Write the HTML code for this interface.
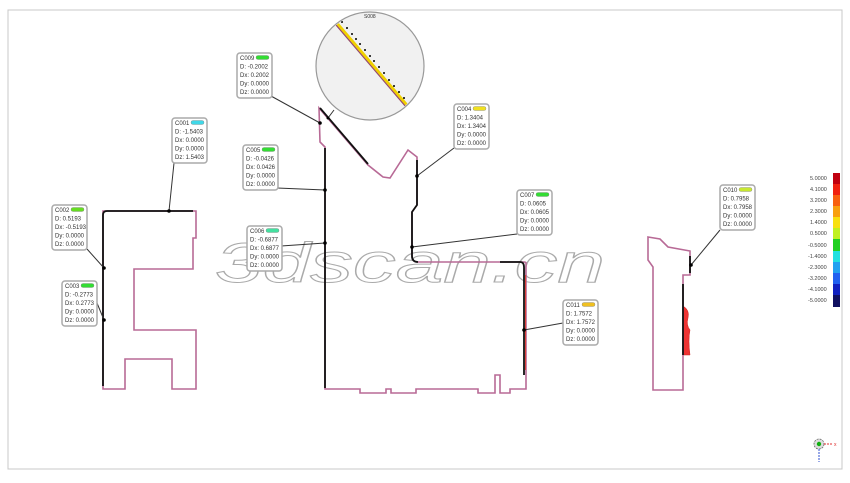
<!DOCTYPE html>
<html><head><meta charset="utf-8"><style>
html,body{margin:0;padding:0;background:#fff;width:850px;height:483px;overflow:hidden}
svg{display:block}
.t{font-family:"Liberation Sans",sans-serif;font-size:6px;fill:#333}
.box{fill:#fff;stroke:#aaa;stroke-width:1.5}
.ol{fill:none;stroke:#b86a96;stroke-width:1.6}
.bk{fill:none;stroke:#111;stroke-width:1.8}
.ln{stroke:#333;stroke-width:1;fill:none}
.lg{font-family:"Liberation Sans",sans-serif;font-size:5.5px;fill:#444}
</style></head><body>
<svg width="850" height="483" viewBox="0 0 850 483" xmlns="http://www.w3.org/2000/svg">
<rect x="0" y="0" width="850" height="483" fill="#fff"/>
<rect x="8" y="10" width="834" height="459" fill="#fff" stroke="#c8c8c8" stroke-width="1"/>

<!-- watermark -->
<text x="215" y="282" font-family="Liberation Sans,sans-serif" font-style="italic" font-size="56" textLength="390" lengthAdjust="spacingAndGlyphs" fill="#fff" fill-opacity="0.5" stroke="#aaa" stroke-width="1">3dscan.cn</text>

<!-- left part -->
<path class="ol" d="M103,211 H196 V238 H193 V269 H134 V330 H196 V389 H172 V359 H125 V389 H103 Z"/>
<path class="bk" d="M103,386 V215 Q103,211 107,211 H193"/>
<line class="ln" x1="174" y1="163" x2="169" y2="211"/><circle cx="169" cy="211" r="1.8" fill="#000"/>
<line class="ln" x1="87" y1="249" x2="104" y2="268"/><circle cx="104" cy="268" r="1.8" fill="#000"/>
<line class="ln" x1="97" y1="303" x2="104" y2="320"/><circle cx="104" cy="320" r="1.8" fill="#000"/>

<!-- middle part -->
<path class="ol" d="M319,108 L320,142 L325,147 V389 H360 V393 H386 V389 H391 V393 H416 V389 H478 V393 H495 V375 H500 V393 H510 V389 H526 V263 Q526,262 524,262 H418 Q412,262 412,256 V212 L417,205 V157 L408,150 L390,178 L383,177 L368,165 Z"/>
<path class="bk" d="M320,108 L368,164"/>
<path class="bk" d="M325,148 V388"/>
<path class="bk" d="M417,160 V205 L412,212 V256 Q412,262 418,262"/>
<path class="bk" d="M500,262 H520 Q524,262 524,267 V375"/>
<line x1="524" y1="275" x2="524" y2="370" stroke="#e03020" stroke-width="0.8" transform="translate(1.5,0)"/>
<line class="ln" x1="271" y1="96" x2="320" y2="123"/><circle cx="320" cy="123" r="1.8" fill="#000"/>
<line class="ln" x1="277" y1="188" x2="325" y2="190"/><circle cx="325" cy="190" r="1.8" fill="#000"/>
<line class="ln" x1="281" y1="246" x2="325" y2="243"/><circle cx="325" cy="243" r="1.8" fill="#000"/>
<line class="ln" x1="454" y1="148" x2="417" y2="176"/><circle cx="417" cy="176" r="1.8" fill="#000"/>
<line class="ln" x1="517" y1="234" x2="412" y2="247"/><circle cx="412" cy="247" r="1.8" fill="#000"/>
<line class="ln" x1="563" y1="323" x2="524" y2="330"/><circle cx="524" cy="330" r="1.8" fill="#000"/>

<!-- magnifier -->
<line class="ln" x1="334" y1="110" x2="328" y2="118"/><circle cx="328" cy="118" r="1.5" fill="#000"/>
<circle cx="370" cy="66" r="54" fill="#f1f1f1" stroke="#999" stroke-width="1.2"/>
<text x="364" y="18" class="t" style="font-size:5px">S008</text>
<g clip-path="url(#cc)">
<clipPath id="cc"><circle cx="370" cy="66" r="53"/></clipPath>
<line x1="337" y1="24" x2="407" y2="106" stroke="#f0d000" stroke-width="4"/>
<line x1="336" y1="25" x2="406" y2="107" stroke="#8a3a8a" stroke-width="1"/>
<g fill="#000">
<circle cx="342" cy="22" r="1"/><circle cx="347" cy="28" r="1"/><circle cx="352" cy="34" r="1"/><circle cx="356" cy="39" r="1"/><circle cx="360" cy="44" r="1"/><circle cx="365" cy="50" r="1"/><circle cx="370" cy="56" r="1"/><circle cx="374" cy="61" r="1"/><circle cx="379" cy="67" r="1"/><circle cx="384" cy="73" r="1"/><circle cx="389" cy="80" r="1"/><circle cx="394" cy="86" r="1"/><circle cx="399" cy="92" r="1"/><circle cx="404" cy="98" r="1"/>
</g></g>

<!-- right part -->
<path d="M683,306 Q690,310 688,318 Q686,325 690,330 Q688,340 690,355 H683 Z" fill="#e33" stroke="#c22" stroke-width="0.5"/>
<path class="ol" d="M648,237 L660,239 L668,247 L690,251 V275 H683 V390 H653 V267 L648,260 Z"/>
<path class="bk" d="M683,284 V355" stroke-width="1.4"/>
<path class="bk" d="M690,256 V273" stroke-width="1.4"/>
<line class="ln" x1="720" y1="230" x2="691" y2="265"/><circle cx="691" cy="265" r="1.8" fill="#000"/>

<!-- callout boxes -->
<g id="boxes">
<g transform="translate(172,118)"><rect class="box" width="35" height="45" rx="3"/><rect x="19" y="2.5" width="13" height="4" rx="2" fill="#40d8e8" stroke="#888" stroke-width="0.4"/><text class="t" x="3" y="7">C001</text><text class="t" x="3" y="15.5">D:  -1.5403</text><text class="t" x="3" y="24">Dx: 0.0000</text><text class="t" x="3" y="32.5">Dy: 0.0000</text><text class="t" x="3" y="41">Dz: 1.5403</text></g>
<g transform="translate(52,205)"><rect class="box" width="35" height="45" rx="3"/><rect x="19" y="2.5" width="13" height="4" rx="2" fill="#66dd22" stroke="#888" stroke-width="0.4"/><text class="t" x="3" y="7">C002</text><text class="t" x="3" y="15.5">D:  0.5193</text><text class="t" x="3" y="24">Dx: -0.5193</text><text class="t" x="3" y="32.5">Dy: 0.0000</text><text class="t" x="3" y="41">Dz: 0.0000</text></g>
<g transform="translate(62,281)"><rect class="box" width="35" height="45" rx="3"/><rect x="19" y="2.5" width="13" height="4" rx="2" fill="#33dd33" stroke="#888" stroke-width="0.4"/><text class="t" x="3" y="7">C003</text><text class="t" x="3" y="15.5">D:  -0.2773</text><text class="t" x="3" y="24">Dx: 0.2773</text><text class="t" x="3" y="32.5">Dy: 0.0000</text><text class="t" x="3" y="41">Dz: 0.0000</text></g>
<g transform="translate(237,53)"><rect class="box" width="35" height="45" rx="3"/><rect x="19" y="2.5" width="13" height="4" rx="2" fill="#33dd33" stroke="#888" stroke-width="0.4"/><text class="t" x="3" y="7">C009</text><text class="t" x="3" y="15.5">D:  -0.2002</text><text class="t" x="3" y="24">Dx: 0.2002</text><text class="t" x="3" y="32.5">Dy: 0.0000</text><text class="t" x="3" y="41">Dz: 0.0000</text></g>
<g transform="translate(243,145)"><rect class="box" width="35" height="45" rx="3"/><rect x="19" y="2.5" width="13" height="4" rx="2" fill="#33dd33" stroke="#888" stroke-width="0.4"/><text class="t" x="3" y="7">C005</text><text class="t" x="3" y="15.5">D:  -0.0426</text><text class="t" x="3" y="24">Dx: 0.0426</text><text class="t" x="3" y="32.5">Dy: 0.0000</text><text class="t" x="3" y="41">Dz: 0.0000</text></g>
<g transform="translate(247,226)"><rect class="box" width="35" height="45" rx="3"/><rect x="19" y="2.5" width="13" height="4" rx="2" fill="#44e0a0" stroke="#888" stroke-width="0.4"/><text class="t" x="3" y="7">C006</text><text class="t" x="3" y="15.5">D:  -0.6877</text><text class="t" x="3" y="24">Dx: 0.6877</text><text class="t" x="3" y="32.5">Dy: 0.0000</text><text class="t" x="3" y="41">Dz: 0.0000</text></g>
<g transform="translate(454,104)"><rect class="box" width="35" height="45" rx="3"/><rect x="19" y="2.5" width="13" height="4" rx="2" fill="#f0e020" stroke="#888" stroke-width="0.4"/><text class="t" x="3" y="7">C004</text><text class="t" x="3" y="15.5">D:  1.3404</text><text class="t" x="3" y="24">Dx: 1.3404</text><text class="t" x="3" y="32.5">Dy: 0.0000</text><text class="t" x="3" y="41">Dz: 0.0000</text></g>
<g transform="translate(517,190)"><rect class="box" width="35" height="45" rx="3"/><rect x="19" y="2.5" width="13" height="4" rx="2" fill="#33dd33" stroke="#888" stroke-width="0.4"/><text class="t" x="3" y="7">C007</text><text class="t" x="3" y="15.5">D:  0.0605</text><text class="t" x="3" y="24">Dx: 0.0605</text><text class="t" x="3" y="32.5">Dy: 0.0000</text><text class="t" x="3" y="41">Dz: 0.0000</text></g>
<g transform="translate(563,300)"><rect class="box" width="35" height="45" rx="3"/><rect x="19" y="2.5" width="13" height="4" rx="2" fill="#f0c020" stroke="#888" stroke-width="0.4"/><text class="t" x="3" y="7">C011</text><text class="t" x="3" y="15.5">D:  1.7572</text><text class="t" x="3" y="24">Dx: 1.7572</text><text class="t" x="3" y="32.5">Dy: 0.0000</text><text class="t" x="3" y="41">Dz: 0.0000</text></g>
<g transform="translate(720,185)"><rect class="box" width="35" height="45" rx="3"/><rect x="19" y="2.5" width="13" height="4" rx="2" fill="#c8e830" stroke="#888" stroke-width="0.4"/><text class="t" x="3" y="7">C010</text><text class="t" x="3" y="15.5">D:  0.7958</text><text class="t" x="3" y="24">Dx: 0.7958</text><text class="t" x="3" y="32.5">Dy: 0.0000</text><text class="t" x="3" y="41">Dz: 0.0000</text></g>
</g>

<!-- legend -->
<g>
<rect x="833" y="173" width="7" height="11" fill="#c00010"/>
<rect x="833" y="184" width="7" height="11" fill="#f02010"/>
<rect x="833" y="195" width="7" height="11" fill="#f86010"/>
<rect x="833" y="206" width="7" height="11" fill="#f8a010"/>
<rect x="833" y="217" width="7" height="11" fill="#f8e010"/>
<rect x="833" y="228" width="7" height="11" fill="#c0f020"/>
<rect x="833" y="239" width="7" height="12" fill="#20d020"/>
<rect x="833" y="251" width="7" height="11" fill="#20e0e0"/>
<rect x="833" y="262" width="7" height="11" fill="#20a0f0"/>
<rect x="833" y="273" width="7" height="11" fill="#2060f0"/>
<rect x="833" y="284" width="7" height="11" fill="#1020c0"/>
<rect x="833" y="295" width="7" height="12" fill="#101060"/>
<text class="lg" x="810" y="180">5.0000</text>
<text class="lg" x="810" y="191">4.1000</text>
<text class="lg" x="810" y="202">3.2000</text>
<text class="lg" x="810" y="213">2.3000</text>
<text class="lg" x="810" y="224">1.4000</text>
<text class="lg" x="810" y="235">0.5000</text>
<text class="lg" x="808" y="247">-0.5000</text>
<text class="lg" x="808" y="258">-1.4000</text>
<text class="lg" x="808" y="269">-2.3000</text>
<text class="lg" x="808" y="280">-3.2000</text>
<text class="lg" x="808" y="291">-4.1000</text>
<text class="lg" x="808" y="302">-5.0000</text>
</g>

<!-- axis icon -->
<g>
<circle cx="819" cy="444" r="5" fill="#ddd" stroke="#666" stroke-width="0.8" stroke-dasharray="2,1"/>
<circle cx="819" cy="444" r="2.2" fill="#10b010"/>
<line x1="824" y1="444" x2="833" y2="444" stroke="#e03030" stroke-width="1" stroke-dasharray="2,1"/>
<text x="834" y="446" font-family="Liberation Sans,sans-serif" font-size="5" fill="#e03030">x</text>
<line x1="819" y1="449" x2="819" y2="462" stroke="#3050d0" stroke-width="1" stroke-dasharray="2,1"/>
</g>
</svg>
</body></html>
